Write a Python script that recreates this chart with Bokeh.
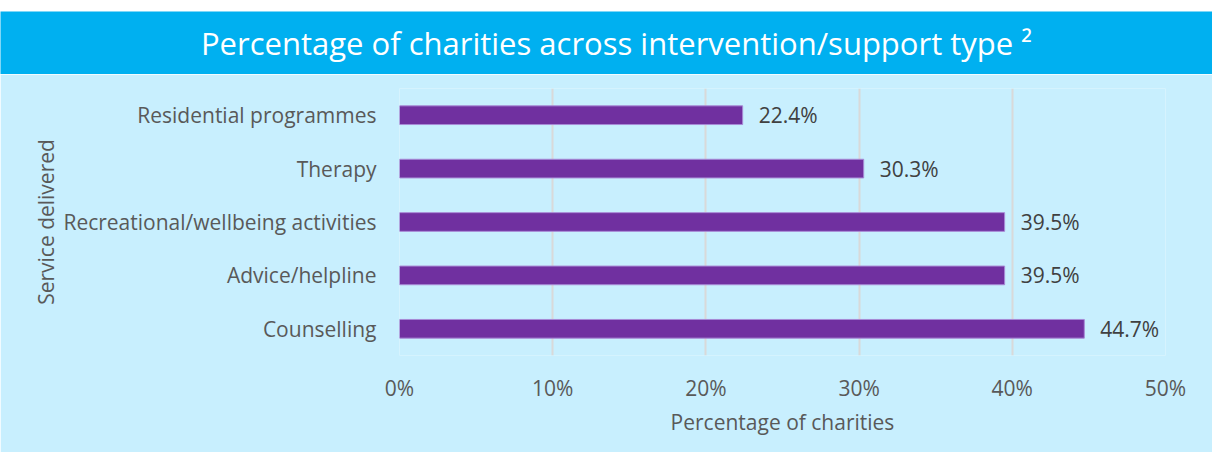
from bokeh.plotting import figure
from bokeh.layouts import column, row
from bokeh.models import Range1d, FactorRange, FixedTicker, PrintfTickFormatter
from bokeh.core.properties import value
from bokeh.embed import file_html
from bokeh.resources import INLINE

# Data (bottom to top)
categories = ["Counselling", "Advice/helpline", "Recreational/wellbeing activities",
              "Therapy", "Residential programmes"]
percentages = [44.7, 39.5, 39.5, 30.3, 22.4]
pct_labels = ["44.7%", "39.5%", "39.5%", "30.3%", "22.4%"]
x_ticks = [0, 10, 20, 30, 40, 50]

TITLE = "Percentage of charities across intervention/support type \u00b2"
FONT = "Open Sans"
TEXT_GRAY = "#595959"
PANEL = "#C8EFFE"
BAR_BLUE = "#00B0F0"

W = 1212
BL, BR = 399, 47


def blank(fig, color):
    fig.axis.visible = False
    fig.grid.visible = False
    fig.outline_line_color = None
    fig.background_fill_color = color
    fig.border_fill_color = color


# Title bar (with white strip on top)
t = figure(width=W, height=74, x_range=Range1d(0, W), y_range=Range1d(0, 63),
           output_backend="svg", toolbar_location=None,
           min_border_left=0, min_border_right=0, min_border_top=11, min_border_bottom=0)
blank(t, BAR_BLUE)
t.border_fill_color = "white"
t.text(x=[616], y=[32], text=[TITLE], text_align="center", text_baseline="alphabetic",
       text_color="white", text_font=value("Open Sans"), text_font_size="31px")

# Main chart
p = figure(width=W, height=378, x_range=Range1d(0, 50), y_range=FactorRange(*categories),
           output_backend="svg", toolbar_location=None,
           min_border_left=BL, min_border_right=BR, min_border_top=14, min_border_bottom=97)
p.background_fill_color = PANEL
p.border_fill_color = PANEL
p.outline_line_color = None

p.hbar(y=categories, right=percentages, left=0, height=0.35,
       fill_color="#7030A0", line_color="#A88AD6", line_width=1)
p.text(x=percentages, y=categories, text=pct_labels, x_offset=16,
       text_baseline="middle", text_align="left",
       text_font=value(FONT), text_font_size="21px", text_color="#404040")

p.xaxis.ticker = FixedTicker(ticks=x_ticks)
p.xaxis.formatter = PrintfTickFormatter(format="%d%%")
p.xgrid.ticker = FixedTicker(ticks=x_ticks)
p.xgrid.grid_line_color = "#D9D9D9"
p.xgrid.grid_line_width = 2
p.ygrid.grid_line_color = None

for ax in (p.xaxis[0], p.yaxis[0]):
    ax.axis_line_color = None
    ax.major_tick_line_color = None
    ax.minor_tick_line_color = None
    ax.major_label_text_font = FONT
    ax.major_label_text_font_size = "21px"
    ax.major_label_text_color = TEXT_GRAY
    ax.axis_label_text_font = FONT
    ax.axis_label_text_font_size = "21px"
    ax.axis_label_text_color = TEXT_GRAY
    ax.axis_label_text_font_style = "normal"

p.xaxis.axis_label = "Percentage of charities"
p.xaxis.major_label_standoff = 12
p.xaxis.axis_label_standoff = 3
p.yaxis.axis_label = "Service delivered"
p.yaxis.major_label_standoff = 17
p.yaxis.axis_label_standoff = 0

layout = column(row(t), p, spacing=0)
open("out.html", "w").write(file_html(layout, INLINE))
